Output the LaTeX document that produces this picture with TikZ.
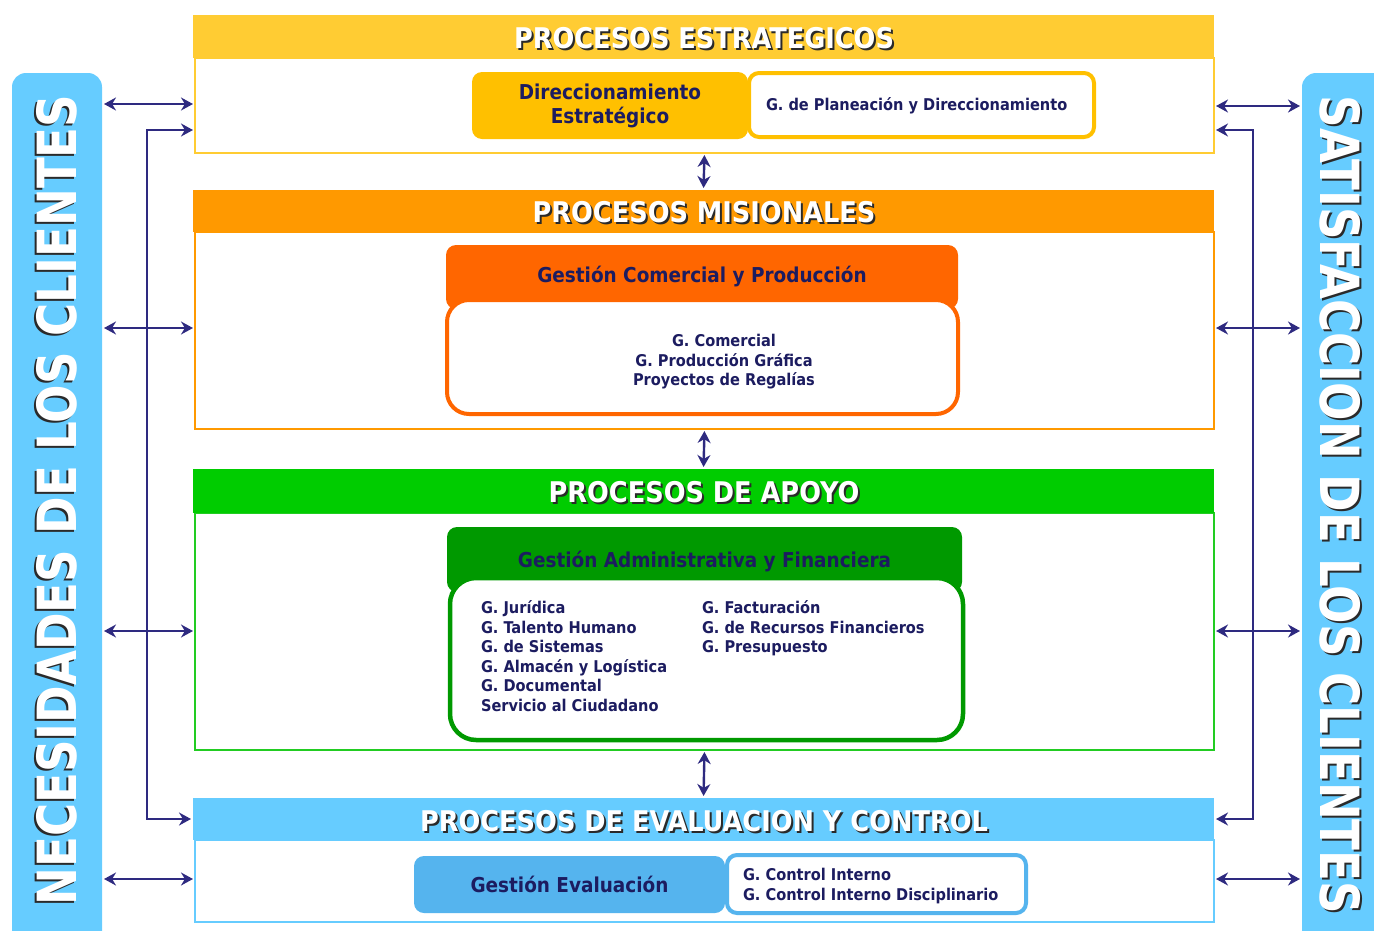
\documentclass[tikz,border=0pt]{standalone}
\usepackage{fontspec}
\setmainfont{DejaVu Sans Condensed}[BoldFont={DejaVu Sans Condensed Bold}]
\usetikzlibrary{arrows.meta}
\definecolor{yelH}{HTML}{FFCC33}
\definecolor{amber}{HTML}{FFC000}
\definecolor{oraH}{HTML}{FF9900}
\definecolor{oraD}{HTML}{FF6600}
\definecolor{grnH}{HTML}{00CC00}
\definecolor{grnB}{HTML}{22CC22}
\definecolor{grnD}{HTML}{009900}
\definecolor{bluH}{HTML}{66CCFF}
\definecolor{bluD}{HTML}{55B4EE}
\definecolor{navy}{HTML}{1C1C60}
\definecolor{arrowc}{HTML}{2E2A80}
\definecolor{shad}{HTML}{2A2A2A}
\newcommand{\sidescale}[1]{\scalebox{0.93}[1]{#1}}
\begin{document}
\begin{tikzpicture}[x=1pt,y=-1pt,
  every node/.style={font=\bfseries, inner sep=0pt, outer sep=0pt},
  arr/.style={draw=arrowc, line width=2.4pt, {Stealth[length=12pt,width=13pt]}-{Stealth[length=12pt,width=13pt]}, shorten <=2pt, shorten >=2pt},
  sidebar/.style={fill=bluH, rounded corners=14pt, minimum width=90pt, minimum height=872pt},
  band/.style={minimum width=1021pt},
  body/.style={fill=white, line width=2.5pt, minimum width=1019pt},
  mainbox/.style={rounded corners=10pt, text=navy, font=\bfseries\fontsize{20.5}{24}\selectfont, align=center},
  listbox/.style={fill=white, line width=4pt},
  listtext/.style={text=navy, font=\bfseries\fontsize{16.2}{19.5}\selectfont},
  hdr/.style={text=white, font=\bfseries\fontsize{28.5}{30}\selectfont},
  hdrsh/.style={text=shad, font=\bfseries\fontsize{28.5}{30}\selectfont},
  sidetxt/.style={text=white, font=\bfseries\fontsize{54}{56}\selectfont},
  sidesh/.style={text=shad, font=\bfseries\fontsize{54}{56}\selectfont}
]
\useasboundingbox (0,0) rectangle (1374,930);

% side bars
\node[sidebar] (sideL) at (57,509) {};
\node[sidebar] (sideR) at (1347,509) {};
\node[sidesh, rotate=90] (sideLsh) at (55,502) {\sidescale{NECESIDADES DE LOS CLIENTES}};
\node[sidetxt, rotate=90] (sideLtx) at (57,500) {\sidescale{NECESIDADES DE LOS CLIENTES}};
\node[sidesh, rotate=-90] (sideRsh) at (1342,507) {\sidescale{SATISFACCION DE LOS CLIENTES}};
\node[sidetxt, rotate=-90] (sideRtx) at (1340,505) {\sidescale{SATISFACCION DE LOS CLIENTES}};

% estrategicos
\node[body, draw=yelH, minimum height=95pt] (est) at (704.5,105.5) {};
\node[band, fill=yelH, minimum height=43pt] (hdrE) at (703.5,36.5) {};
\node[hdrsh] (hdrEsh) at (706,40) {PROCESOS ESTRATEGICOS};
\node[hdr] (hdrEtx) at (704,38) {PROCESOS ESTRATEGICOS};
\node[mainbox, fill=amber, minimum width=276pt, minimum height=67pt] (dir) at (610,105.5) {Direccionamiento\\Estratégico};
\node[listbox, draw=amber, rounded corners=10pt, minimum width=345pt, minimum height=64pt] (plan) at (921.5,105) {};
\node[listtext, anchor=west] (planTx) at (766,106) {G. de Planeación y Direccionamiento};

% misionales
\node[body, draw=oraH, minimum height=197pt] (mis) at (704.5,330.5) {};
\node[band, fill=oraH, minimum height=42pt] (hdrM) at (703.5,211) {};
\node[hdrsh] (hdrMsh) at (706,214) {PROCESOS MISIONALES};
\node[hdr] (hdrMtx) at (704,212) {PROCESOS MISIONALES};
\node[mainbox, fill=oraD, minimum width=512pt, minimum height=64pt, anchor=north] (gcp) at (702,245) {};
\node[mainbox] (gcpTx) at (702,277) {Gestión Comercial y Producción};
\node[listbox, draw=oraD, rounded corners=22pt, minimum width=511pt, minimum height=114pt] (gcpL) at (702.5,357) {};
\node[listtext, align=center] (gcpLTx) at (724,362) {G. Comercial\\G. Producción Gráfica\\Proyectos de Regalías};

% apoyo
\node[body, draw=grnB, minimum height=237pt] (apo) at (704.5,631.5) {};
\node[band, fill=grnH, minimum height=44pt] (hdrA) at (703.5,491) {};
\node[hdrsh] (hdrAsh) at (706,494) {PROCESOS DE APOYO};
\node[hdr] (hdrAtx) at (704,492) {PROCESOS DE APOYO};
\node[mainbox, fill=grnD, minimum width=515pt, minimum height=65pt, anchor=north] (gaf) at (704.5,527) {};
\node[mainbox] (gafTx) at (704.5,562) {Gestión Administrativa y Financiera};
\node[listbox, draw=grnD, line width=4.5pt, rounded corners=26pt, minimum width=513pt, minimum height=162pt] (gafL) at (706.5,659) {};
\node[listtext, align=left, anchor=north west] (gafC1) at (481,601) {G. Jurídica\\G. Talento Humano\\G. de Sistemas\\G. Almacén y Logística\\G. Documental\\Servicio al Ciudadano};
\node[listtext, align=left, anchor=north west] (gafC2) at (702,601) {G. Facturación\\G. de Recursos Financieros\\G. Presupuesto};

% evaluacion
\node[body, draw=bluH, minimum height=82pt] (eva) at (704.5,881) {};
\node[band, fill=bluH, minimum height=42pt] (hdrC) at (703.5,819) {};
\node[hdrsh] (hdrCsh) at (706,823) {PROCESOS DE EVALUACION Y CONTROL};
\node[hdr] (hdrCtx) at (704,821) {PROCESOS DE EVALUACION Y CONTROL};
\node[mainbox, fill=bluD, minimum width=311pt, minimum height=57pt] (gev) at (569.5,884.5) {Gestión Evaluación};
\node[listbox, draw=bluD, rounded corners=10pt, minimum width=299pt, minimum height=58pt] (gevL) at (876.5,884) {};
\node[listtext, align=left, anchor=west] (gevLTx) at (743,886) {G. Control Interno\\G. Control Interno Disciplinario};

% vertical arrows between sections
\draw[arr] (est.south) -- (hdrM.north);
\draw[arr] (mis.south) -- (hdrA.north);
\draw[arr] (apo.south) -- (hdrC.north);

% left arrows
\draw[arr] (sideL.east |- 0,104) -- (est.west |- 0,104);
\draw[arr] (sideL.east |- 0,328) -- (mis.west |- 0,328);
\draw[arr] (sideL.east |- 0,631) -- (apo.west |- 0,631);
\draw[arr] (sideL.east |- 0,879) -- (eva.west |- 0,879);
\coordinate (elbL) at (147,475);
\draw[arr] (est.west |- 0,130) -| (elbL) |- (hdrC.west);

% right arrows
\draw[arr] (est.east |- 0,106) -- (sideR.west |- 0,106);
\draw[arr] (mis.east |- 0,328) -- (sideR.west |- 0,328);
\draw[arr] (apo.east |- 0,631) -- (sideR.west |- 0,631);
\draw[arr] (eva.east |- 0,879) -- (sideR.west |- 0,879);
\coordinate (elbR) at (1253,475);
\draw[arr] (est.east |- 0,130) -| (elbR) |- (hdrC.east);
\end{tikzpicture}
\end{document}
